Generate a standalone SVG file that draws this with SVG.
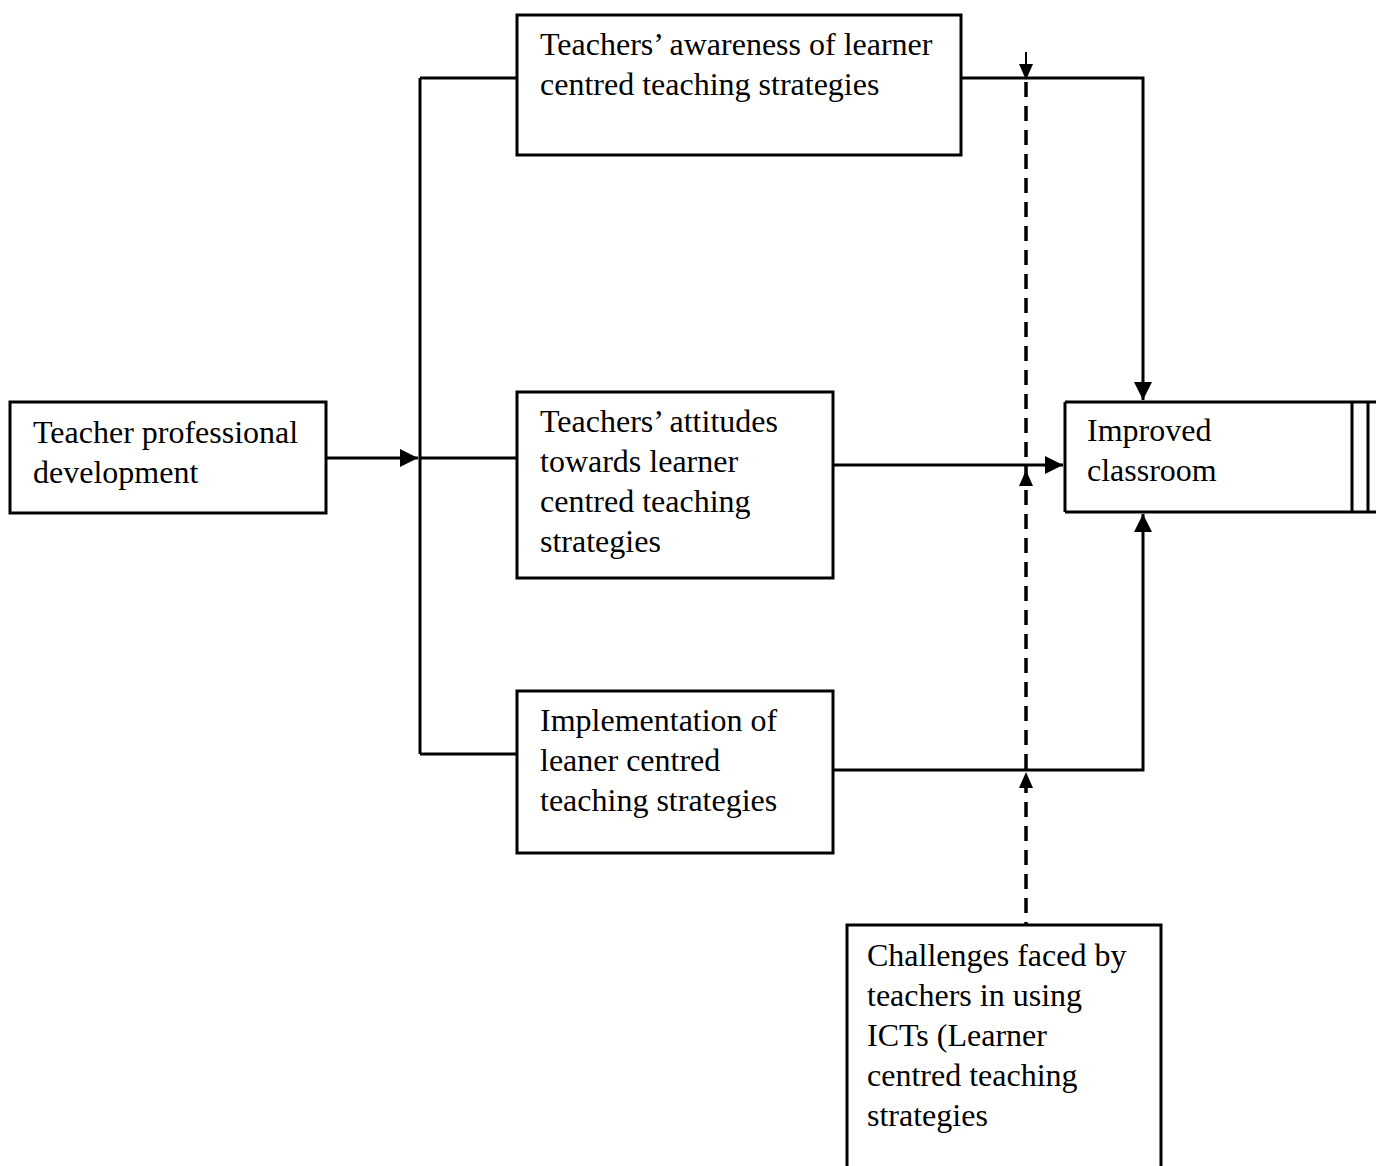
<svg xmlns="http://www.w3.org/2000/svg" width="1376" height="1166" viewBox="0 0 1376 1166">
<style>
.box{fill:#fff;stroke:#000;stroke-width:3}
.ln{fill:none;stroke:#000;stroke-width:3}
.dash{fill:none;stroke:#000;stroke-width:3.5;stroke-dasharray:15 9}
text{font-family:"Liberation Serif","Times New Roman",serif;font-size:32px;fill:#000}
</style>
<defs>
<marker id="ah" markerWidth="6" markerHeight="6" refX="6" refY="3" orient="auto" markerUnits="strokeWidth"><path d="M0,0 L6,3 L0,6 Z" fill="#000"/></marker>
</defs>
<rect width="1376" height="1166" fill="#fff"/>
<g id="connectors">
<path class="ln" d="M420,78 V754"/>
<path class="ln" d="M420,78 H517"/>
<path class="ln" d="M420,458 H517"/>
<path class="ln" d="M420,754 H517"/>
<path class="ln" d="M326,458 H418" marker-end="url(#ah)"/>
<path class="ln" d="M961,78 H1143 V400" marker-end="url(#ah)"/>
<path class="ln" d="M833,465 H1063" marker-end="url(#ah)"/>
<path class="ln" d="M833,770 H1143 V514" marker-end="url(#ah)"/>
<path fill="none" stroke="#000" stroke-width="2" d="M1026,52 V66"/>
<path d="M1019,64 L1033,64 L1026,80 Z" fill="#000"/>
<path class="dash" d="M1026,82 V925"/>
<path d="M1019,486 L1033,486 L1026,470 Z" fill="#000"/>
<path d="M1019,788 L1033,788 L1026,772 Z" fill="#000"/>
</g>
<g id="n-tpd">
<rect class="box" x="10" y="402" width="316" height="111"/>
<text x="33" y="443">Teacher professional</text>
<text x="33" y="483">development</text>
</g>
<g id="n-awareness">
<rect class="box" x="517" y="15" width="444" height="140"/>
<text x="540" y="55">Teachers’ awareness of learner</text>
<text x="540" y="95">centred teaching strategies</text>
</g>
<g id="n-attitudes">
<rect class="box" x="517" y="392" width="316" height="186"/>
<text x="540" y="432">Teachers’ attitudes</text>
<text x="540" y="472">towards learner</text>
<text x="540" y="512">centred teaching</text>
<text x="540" y="552">strategies</text>
</g>
<g id="n-implementation">
<rect class="box" x="517" y="691" width="316" height="162"/>
<text x="540" y="731">Implementation of</text>
<text x="540" y="771">leaner centred</text>
<text x="540" y="811">teaching strategies</text>
</g>
<g id="n-improved">
<path class="ln" d="M1065,402 H1376 M1065,512 H1376 M1065,402 V512 M1352,402 V512 M1368,402 V512"/>
<text x="1087" y="441">Improved</text>
<text x="1087" y="481">classroom</text>
</g>
<g id="n-challenges">
<path class="ln" d="M847,1168 V925 H1161 V1168"/>
<text x="867" y="966">Challenges faced by</text>
<text x="867" y="1006">teachers in using</text>
<text x="867" y="1046">ICTs (Learner</text>
<text x="867" y="1086">centred teaching</text>
<text x="867" y="1126">strategies</text>
</g>
</svg>
